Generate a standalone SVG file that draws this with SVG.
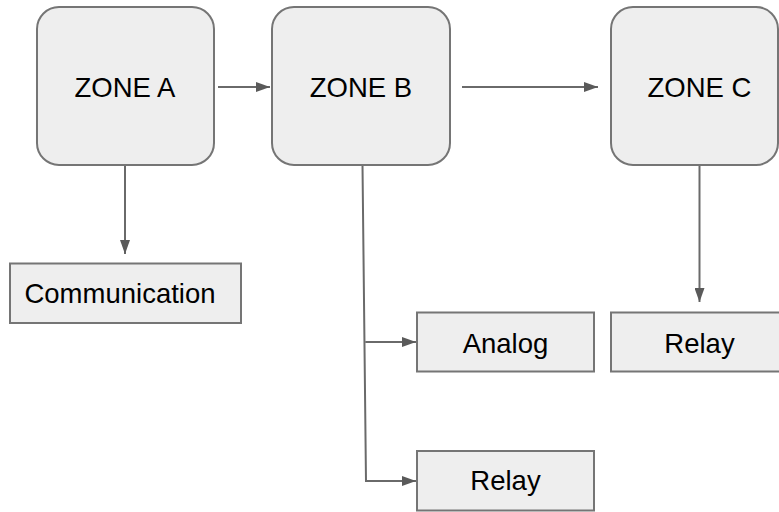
<svg xmlns="http://www.w3.org/2000/svg" width="779" height="512" viewBox="0 0 779 512">
  <defs>
    <style>
      .zone { fill: #eeeeee; stroke: #757575; stroke-width: 2; }
      .box { fill: #eeeeee; stroke: #757575; stroke-width: 2; }
      .lbl { font-family: "Liberation Sans", Arial, sans-serif; font-size: 27.5px; fill: #000000; text-anchor: middle; }
      .conn { fill: none; stroke: #6a6a6a; stroke-width: 2; }
    </style>
    <marker id="arrow" viewBox="0 0 14 10" refX="14" refY="5" markerWidth="14" markerHeight="10" markerUnits="userSpaceOnUse" orient="auto">
      <path d="M0,0 L14,5 L0,10 z" fill="#5a5a5a"/>
    </marker>
  </defs>
  <rect width="779" height="512" fill="#ffffff"/>

  <g id="connectors">
    <path class="conn" d="M218,87 L270,87" marker-end="url(#arrow)"/>
    <path class="conn" d="M462,87 L598,87" marker-end="url(#arrow)"/>
    <path class="conn" d="M125,165 L125,254" marker-end="url(#arrow)"/>
    <path class="conn" d="M699.5,165 L699.5,302" marker-end="url(#arrow)"/>
    <path class="conn" d="M362.5,165 L366,481 L416,481" marker-end="url(#arrow)"/>
    <path class="conn" d="M365.3,342 L416,342" marker-end="url(#arrow)"/>
  </g>

  <g id="zone-a">
    <rect class="zone" x="37" y="7" width="177" height="158" rx="22" ry="22"/>
    <text class="lbl" x="125" y="96.5">ZONE A</text>
  </g>
  <g id="zone-b">
    <rect class="zone" x="272" y="7" width="178" height="158" rx="22" ry="22"/>
    <text class="lbl" x="361" y="96.5">ZONE B</text>
  </g>
  <g id="zone-c">
    <rect class="zone" x="611" y="7" width="167" height="158" rx="22" ry="22"/>
    <text class="lbl" x="699.5" y="96.5">ZONE C</text>
  </g>
  <g id="communication">
    <rect class="box" x="10" y="263.5" width="231" height="59.5"/>
    <text class="lbl" x="120" y="302.5">Communication</text>
  </g>
  <g id="analog">
    <rect class="box" x="417" y="312.5" width="177" height="59"/>
    <text class="lbl" x="505.5" y="353">Analog</text>
  </g>
  <g id="relay-b">
    <rect class="box" x="417" y="451" width="177" height="59.5"/>
    <text class="lbl" x="505.5" y="489.5">Relay</text>
  </g>
  <g id="relay-c">
    <rect class="box" x="611" y="312.5" width="177" height="59"/>
    <text class="lbl" x="699.5" y="353">Relay</text>
  </g>
</svg>
